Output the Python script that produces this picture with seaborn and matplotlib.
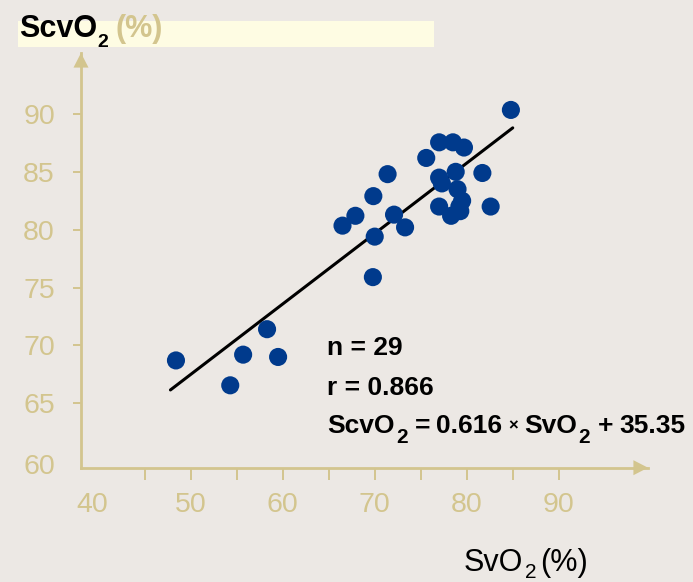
import matplotlib
matplotlib.use("Agg")
import matplotlib.pyplot as plt
import matplotlib.transforms as mtrans
import seaborn as sns
import pandas as pd
from matplotlib.patches import Rectangle

# ---- data ----
svo2 = [84.8, 77.0, 78.5, 79.7, 75.6, 71.4, 78.8, 77.0, 81.7, 79.0,
        69.85, 79.5, 77.0, 82.6, 79.3, 78.3, 67.9, 72.1, 66.5, 73.3,
        70.0, 69.8, 58.3, 48.4, 55.7, 59.5, 54.3, 79.2, 77.3]
scvo2 = [90.35, 87.55, 87.55, 87.1, 86.2, 84.8, 85.0, 84.5, 84.9, 83.5,
         82.9, 82.5, 82.0, 82.0, 81.6, 81.2, 81.2, 81.3, 80.35, 80.2,
         79.4, 75.9, 71.4, 68.7, 69.2, 69.0, 66.55, 82.0, 84.0]
fit_x = [47.8, 85.0]
fit_y = [66.15, 88.8]
x_ticks = [40, 50, 60, 70, 80, 90]
x_minor = [45, 55, 65, 75, 85]
y_ticks = [60, 65, 70, 75, 80, 85, 90]
stat_lines = ["n = 29", "r = 0.866"]

BG = "#ECE8E4"
TAN = "#D3C58E"
BLUE = "#003A8C"
BAND = "#FEFCE3"

sns.set_theme(style="white")
plt.rcParams["font.family"] = ["Liberation Sans", "DejaVu Sans"]

W, H = 693, 582
fig = plt.figure(figsize=(W / 100, H / 100), dpi=100, facecolor=BG)
renderer = fig.canvas.get_renderer()


def fx(px):
    return px / W


def fy(py):
    return 1 - py / H


def runs(x0, base, items):
    """items: (text, size, weight, color, dy_px, gap_before_px)"""
    x = x0
    for text, size, weight, color, dy, gap in items:
        x += gap
        t = fig.text(fx(x), fy(base + dy), text, fontsize=size, fontweight=weight,
                     color=color, va="baseline", ha="left")
        x = t.get_window_extent(renderer).x1


ax = fig.add_axes([fx(81), fy(467.7), (648 - 81) / W, (467.7 - 53) / H])
ax.set_facecolor(BG)
ax.patch.set_alpha(0)

df = pd.DataFrame({"SvO2": svo2, "ScvO2": scvo2})
fit = pd.DataFrame({"x": fit_x, "y": fit_y})
sns.lineplot(data=fit, x="x", y="y", ax=ax, color="black", lw=2.2, zorder=2)
sns.scatterplot(data=df, x="SvO2", y="ScvO2", ax=ax, color=BLUE, s=170,
                edgecolor="none", linewidth=0, zorder=3)

ax.set_xlim(38.08, 99.7)
ax.set_ylim(59.43, 95.27)
ax.set_xlabel("")
ax.set_ylabel("")

for s in ["top", "right"]:
    ax.spines[s].set_visible(False)
for s in ["left", "bottom"]:
    ax.spines[s].set_color(TAN)
    ax.spines[s].set_linewidth(2)

ax.set_xticks(x_ticks)
ax.set_xticklabels([str(v) for v in x_ticks])
ax.set_xticks(x_minor, minor=True)
ax.set_yticks(y_ticks)
ax.set_yticklabels([str(v) for v in y_ticks])

ax.tick_params(axis="x", which="both", direction="out", length=8.6, width=1.4,
               color=TAN, labelcolor=TAN, labelsize=20.5, pad=9, bottom=True)
ax.tick_params(axis="y", direction="out", length=5.8, width=1.4,
               color=TAN, labelcolor=TAN, labelsize=20.5, pad=13, left=True)
ax.xaxis.get_major_ticks()[0].tick1line.set_visible(False)
ax.yaxis.get_major_ticks()[0].tick1line.set_visible(False)
lab40 = ax.get_xticklabels()[0]
lab40.set_transform(lab40.get_transform() +
                    mtrans.ScaledTranslation(-6 / 100, 0, fig.dpi_scale_trans))
lab60 = ax.get_yticklabels()[0]
lab60.set_transform(lab60.get_transform() +
                    mtrans.ScaledTranslation(0, -3 / 100, fig.dpi_scale_trans))

# axis arrows
for xy, xyt in [((1, 0), (0.95, 0)), ((0, 1), (0, 0.95))]:
    ax.annotate("", xy=xy, xytext=xyt, xycoords="axes fraction",
                textcoords="axes fraction",
                arrowprops=dict(arrowstyle="-|>,head_length=1.05,head_width=0.54",
                                mutation_scale=10, color=TAN, lw=0,
                                shrinkA=0, shrinkB=0),
                annotation_clip=False)

# title band and title
fig.patches.append(Rectangle((fx(18), fy(46.7)), (434 - 18) / W, (46.7 - 21) / H,
                             transform=fig.transFigure, facecolor=BAND,
                             edgecolor="none", zorder=0))
runs(19, 36.7, [("ScvO", 22, "bold", "black", 0, 0),
                ("2", 14, "bold", "black", 10, 0.5),
                ("(%)", 22, "bold", TAN, 0, 7.5)])

# x axis label
runs(464, 570.7, [("SvO", 22, "normal", "black", 0, 0),
                  ("2", 15, "normal", "black", 7, 1.5),
                  ("(%)", 22, "normal", "black", 0, 4)])

# statistics
fig.text(fx(327), fy(355), stat_lines[0], fontsize=19, fontweight="bold",
         va="baseline", ha="left", color="black")
fig.text(fx(327), fy(395), stat_lines[1], fontsize=19, fontweight="bold",
         va="baseline", ha="left", color="black")
runs(327, 433, [("ScvO", 19, "bold", "black", 0, 0),
                ("2", 15, "bold", "black", 10, 1.5),
                ("=", 19, "bold", "black", 0, 7),
                ("0.616", 19, "bold", "black", 0, 6),
                ("\u00d7", 12, "bold", "black", -3, 6),
                ("SvO", 19, "bold", "black", 0, 6),
                ("2", 15, "bold", "black", 10, 1),
                ("+", 19, "bold", "black", 0, 8),
                ("35.35", 19, "bold", "black", 0, 6)])

fig.savefig("out.png", dpi=100, facecolor=BG)
